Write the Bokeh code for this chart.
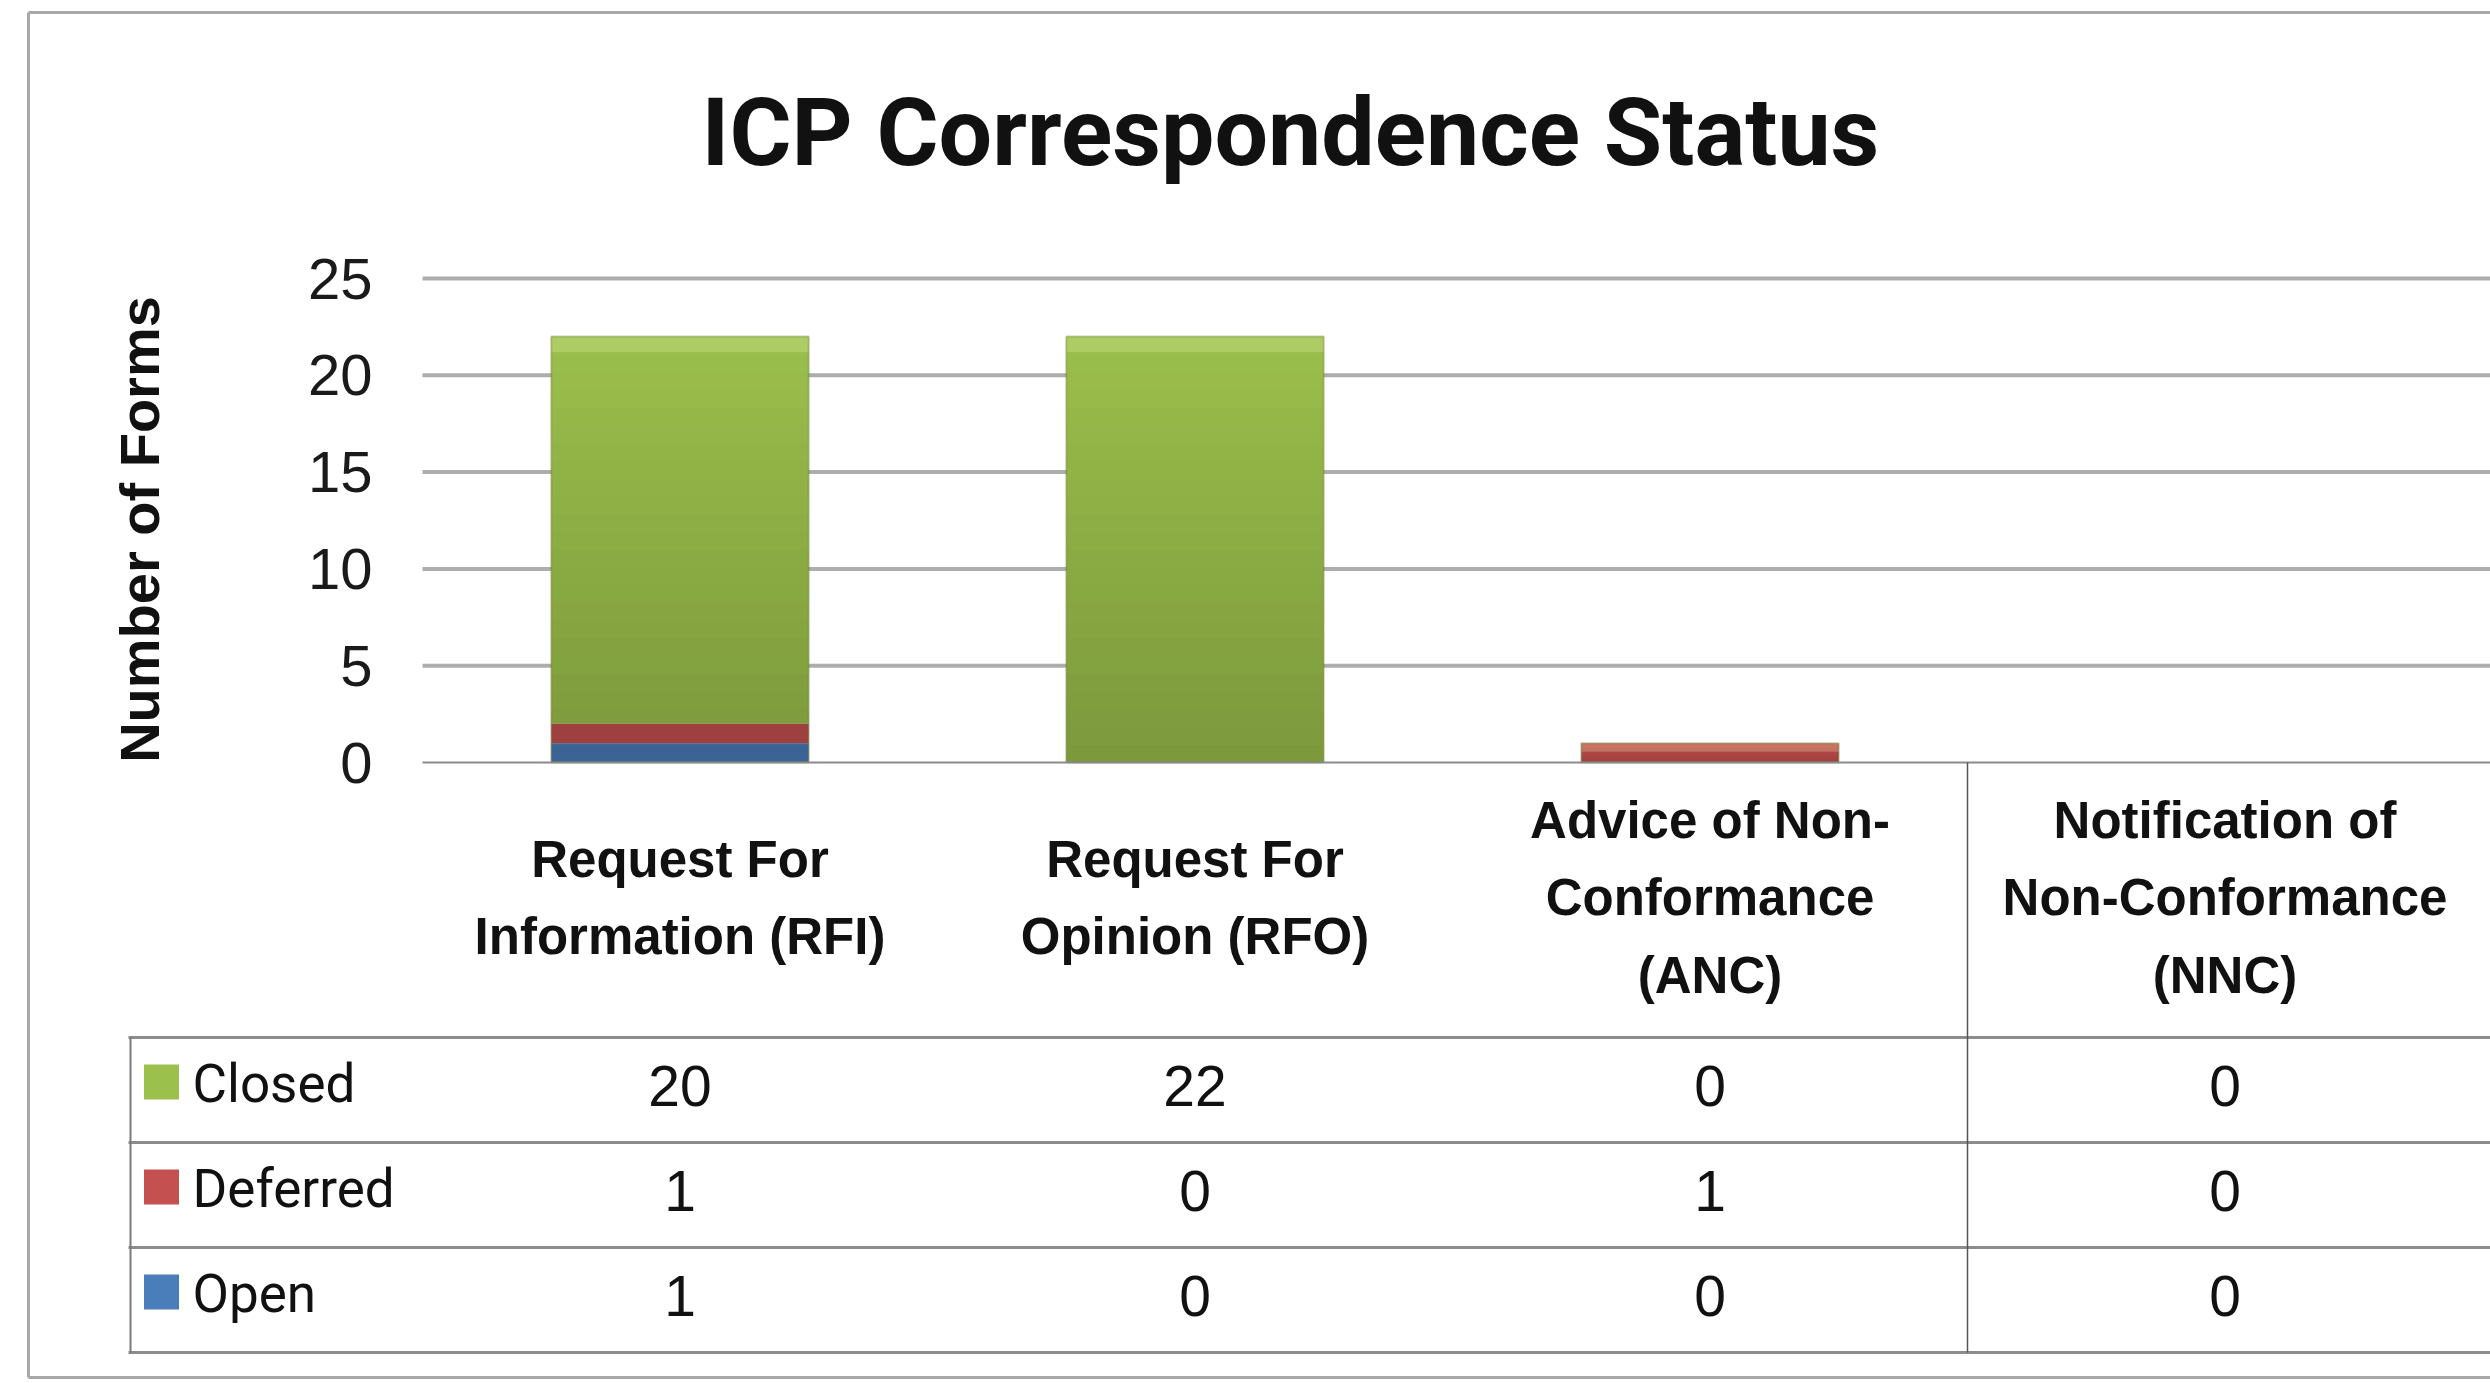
from bokeh.plotting import figure
from bokeh.models import Range1d, ColumnDataSource
from bokeh.core.properties import value
from bokeh.embed import file_html
from bokeh.resources import INLINE
import math

# ---------------- data ----------------
categories = ["RFI", "RFO", "ANC", "NNC"]
category_labels = [
    "Request For\nInformation (RFI)",
    "Request For\nOpinion (RFO)",
    "Advice of Non-\nConformance\n(ANC)",
    "Notification of\nNon-Conformance\n(NNC)",
]
series = ["Open", "Deferred", "Closed"]          # stacking order, bottom -> top
open_vals = [1, 0, 0, 0]
deferred_vals = [1, 0, 1, 0]
closed_vals = [20, 22, 0, 0]
table_rows = ["Closed", "Deferred", "Open"]      # data-table order, top -> bottom
y_ticks = [0, 5, 10, 15, 20, 25]
title_text = "ICP Correspondence Status"
y_title = "Number of Forms"

colors = {"Closed": "#9CC04C", "Deferred": "#C4504F", "Open": "#4A7EBB"}
values = {"Open": open_vals, "Deferred": deferred_vals, "Closed": closed_vals}

# ---------------- layout (pixels) ----------------
W, H = 2490, 1380
COL_W = 515.0          # px per category column
X0 = 422.0             # px of first column left edge
UNIT = 19.36           # px per form
Y0 = 762.0             # px of value 0
ROW_TOP = [1037, 1142, 1247, 1352]

SANS = "Liberation Sans"
ROBOTO = "Roboto"

p = figure(width=W, height=H,
           x_range=Range1d(-X0 / COL_W, (W - X0) / COL_W),
           y_range=Range1d(-(H - Y0) / UNIT, Y0 / UNIT),
           x_axis_type=None, y_axis_type=None,
           output_backend="svg", toolbar_location=None, min_border=0)
p.outline_line_color = None
p.grid.visible = False
p.background_fill_color = "white"
p.border_fill_color = "white"
p.extra_x_ranges = {"sx": Range1d(0, W)}
p.extra_y_ranges = {"sy": Range1d(H, 0)}

xc = [i + 0.5 for i in range(len(categories))]
x_end = (W - X0) / COL_W

# outer chart border
p.segment(x0=[28, 28, 28], y0=[12, 12, 1377], x1=[28, W, W], y1=[1377, 12, 1377],
          line_color="#a8a8a8", line_width=3, x_range_name="sx", y_range_name="sy")

# horizontal gridlines
grid_y = [t for t in y_ticks if t != 0]
p.segment(x0=[0] * len(grid_y), y0=grid_y, x1=[x_end] * len(grid_y), y1=grid_y,
          line_color="#adadad", line_width=4)

# stacked bars
src = ColumnDataSource(dict(x=xc, **values))
p.vbar_stack(series, x="x", width=0.5, source=src,
             color=[colors[s] for s in series], line_color=None)

# soft vertical shading of each bar (derived from the bar totals)
totals = [o + d + c for o, d, c in zip(open_vals, deferred_vals, closed_vals)]
NB = 24
sx_, sb_, st_, sa_ = [], [], [], []
for x, t in zip(xc, totals):
    if t <= 0:
        continue
    for k in range(NB):
        sx_.append(x)
        sb_.append(t * k / NB)
        st_.append(t * (k + 1) / NB)
        sa_.append(0.20 * (1 - k / NB))
p.vbar(x=sx_, bottom=sb_, top=st_, width=0.5, fill_color="black",
       fill_alpha=sa_, line_color=None)
hx = [x for x, t in zip(xc, totals) if t > 0]
ht = [t for t in totals if t > 0]
p.vbar(x=hx, top=ht, bottom=[t - min(0.8, 0.45 * t) for t in ht], width=0.5,
       fill_color="#f4ffc0", fill_alpha=0.22, line_color=None)
# darker side edges of bars
p.vbar(x=hx, top=ht, bottom=[0] * len(ht), width=0.5, fill_color=None,
       line_color="#5f7a2a", line_alpha=0.35, line_width=2)

# zero line
p.segment(x0=[0], y0=[0], x1=[x_end], y1=[0], line_color="#8a8a8a", line_width=2)

# y tick labels
p.text(x=[0] * len(y_ticks), y=y_ticks, text=[str(t) for t in y_ticks],
       x_offset=-50, text_align="right", text_baseline="middle",
       text_font=value(SANS), text_font_size="58px", text_color="#1a1a1a")

# y axis title
p.text(x=[139], y=[529], text=[y_title], angle=math.pi / 2,
       text_align="center", text_baseline="middle",
       text_font=value(SANS), text_font_style="bold", text_font_size="56px",
       text_color="#111111", x_range_name="sx", y_range_name="sy")

# chart title
p.text(x=[1290], y=[132], text=[title_text], text_align="center",
       text_baseline="middle", text_font=value(ROBOTO), text_font_style="bold",
       text_font_size="95px", text_color="#111111",
       x_range_name="sx", y_range_name="sy")

# category labels (data-table header)
p.text(x=xc, y=[Y0 + (ROW_TOP[0] - Y0) / 2 - 2] * len(xc), text=category_labels,
       text_align="center", text_baseline="middle", text_line_height=1.36,
       text_font=value(SANS), text_font_style="bold", text_font_size="51px",
       text_color="#111111", y_range_name="sy")

# data table lines
p.segment(x0=[128] * len(ROW_TOP), y0=ROW_TOP, x1=[W] * len(ROW_TOP), y1=ROW_TOP,
          line_color="#8c8c8c", line_width=3, x_range_name="sx", y_range_name="sy")
p.segment(x0=[130], y0=[ROW_TOP[0]], x1=[130], y1=[ROW_TOP[-1]],
          line_color="#7a7a7a", line_width=2, x_range_name="sx", y_range_name="sy")
p.segment(x0=[3], y0=[Y0], x1=[3], y1=[ROW_TOP[-1]],
          line_color="#555555", line_width=1.5, y_range_name="sy")

row_mid = [(ROW_TOP[i] + ROW_TOP[i + 1]) / 2 - 4 for i in range(len(table_rows))]

# legend keys + row names
p.scatter(x=[161] * len(table_rows), y=[m - 4 for m in row_mid], marker="square", size=35,
          color=[colors[r] for r in table_rows], line_color=None,
          x_range_name="sx", y_range_name="sy")
p.text(x=[192] * len(table_rows), y=[m - 2 for m in row_mid], text=table_rows,
       text_align="left", text_baseline="middle",
       text_font=value(ROBOTO), text_font_size="53px", text_color="#111111",
       x_range_name="sx", y_range_name="sy")

# table values
cx, cy, ct = [], [], []
for r, name in enumerate(table_rows):
    for i in range(len(categories)):
        cx.append(xc[i]); cy.append(row_mid[r]); ct.append(str(values[name][i]))
p.text(x=cx, y=cy, text=ct, text_align="center", text_baseline="middle",
       text_font=value(SANS), text_font_size="57px", text_color="#111111",
       y_range_name="sy")

open("out.html", "w").write(file_html(p, INLINE))
